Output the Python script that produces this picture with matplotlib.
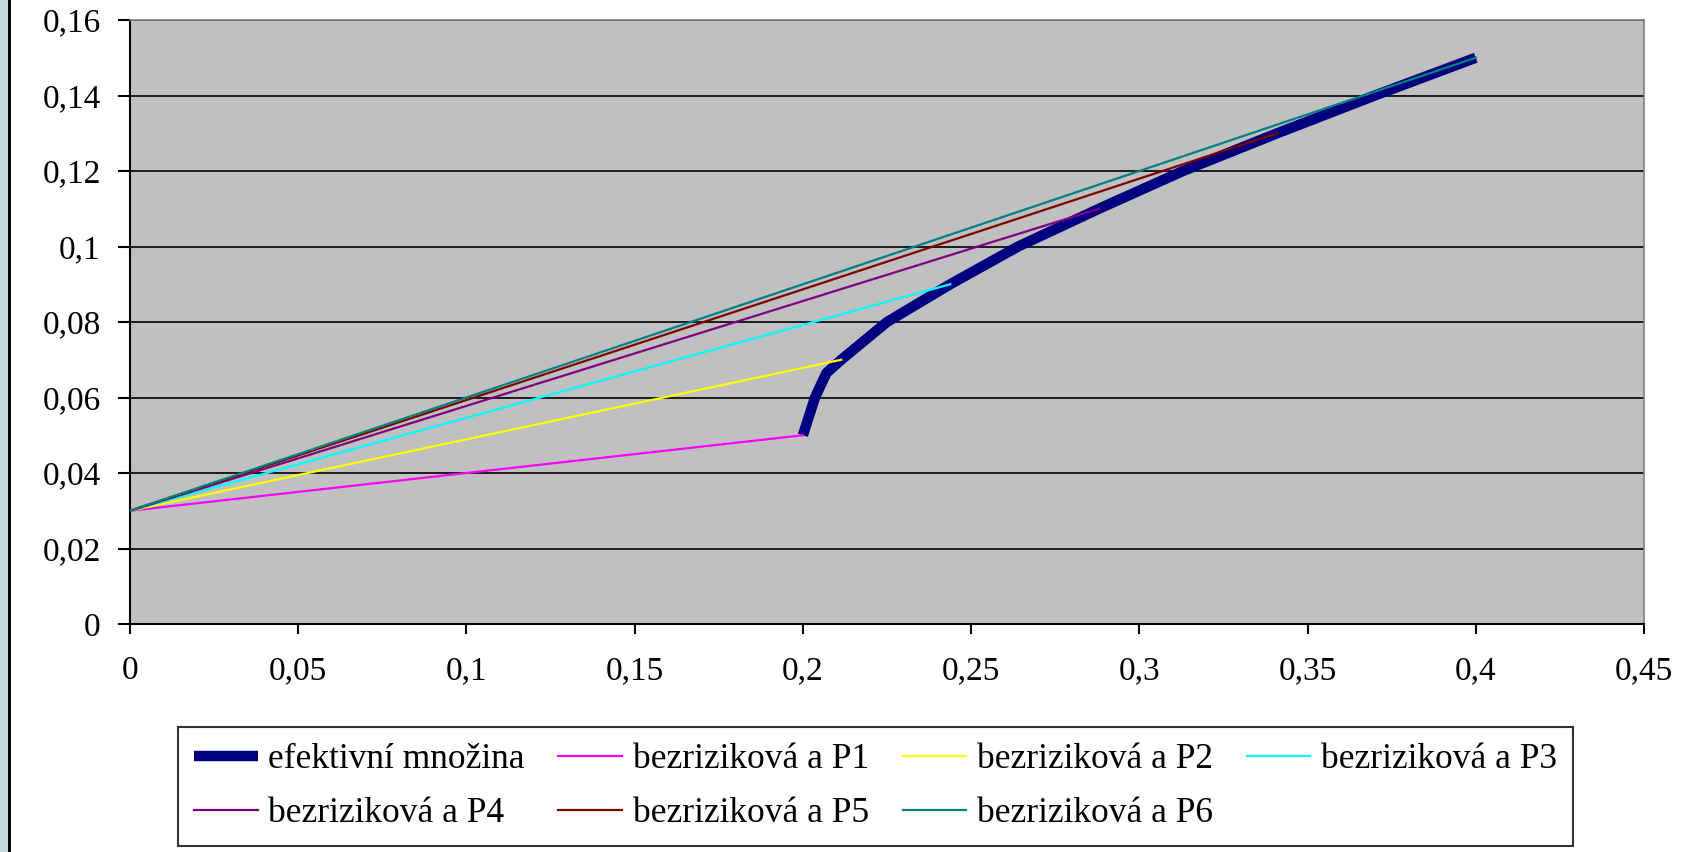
import matplotlib
matplotlib.use("Agg")
import matplotlib.pyplot as plt
from matplotlib.ticker import FuncFormatter, MultipleLocator
from matplotlib.patches import Rectangle

plt.rcParams['font.family'] = ['Liberation Serif', 'DejaVu Serif']

# efficient frontier (risk, return)
frontier_x = [0.2, 0.2036, 0.207, 0.2114, 0.225, 0.2438, 0.264, 0.288, 0.313, 0.341, 0.37, 0.4]
frontier_y = [0.05, 0.06, 0.0665, 0.07, 0.08, 0.09, 0.1, 0.11, 0.12, 0.13, 0.14, 0.15]

# risk-free asset and portfolios P1..P6
rf = (0.0, 0.03)
port_names = ['P1', 'P2', 'P3', 'P4', 'P5', 'P6']
port_x = [0.2, 0.2114, 0.2438, 0.288, 0.341, 0.4]
port_y = [0.05, 0.07, 0.09, 0.11, 0.13, 0.15]
port_colors = ['#FF00FF', '#FFFF00', '#00FFFF', '#800080', '#800000', '#008080']

W, H = 1696, 852
fig = plt.figure(figsize=(W / 100, H / 100), dpi=100)

# left border strip
fig.patches.append(Rectangle((0, 0), 8 / W, 1, transform=fig.transFigure,
                             facecolor='#C5D9D8', edgecolor='none', zorder=0))
fig.patches.append(Rectangle((8 / W, 0), 3 / W, 1, transform=fig.transFigure,
                             facecolor='black', edgecolor='none', zorder=0))

ax = fig.add_axes([130 / W, (H - 624) / H, 1514 / W, 604 / H])
ax.set_facecolor('#C0C0C0')

handles = []
h, = ax.plot(frontier_x, frontier_y, color='#000080', lw=7.5,
             solid_capstyle='butt', label='efektivní množina', zorder=3)
handles.append(h)
for name, px, py, c in zip(port_names, port_x, port_y, port_colors):
    h, = ax.plot([rf[0], px], [rf[1], py], color=c, lw=1.6,
                 label='bezriziková a ' + name, zorder=4)
    handles.append(h)

ax.set_xlim(0, 0.45)
ax.set_ylim(0, 0.16)
ax.xaxis.set_major_locator(MultipleLocator(0.05))
ax.yaxis.set_major_locator(MultipleLocator(0.02))
fmt = FuncFormatter(lambda v, p: ('%g' % round(v, 4)).replace('.', ','))
ax.xaxis.set_major_formatter(fmt)
ax.yaxis.set_major_formatter(fmt)
ax.yaxis.grid(True, color='black', lw=1.2)
ax.set_axisbelow(True)

for s in ['top', 'right']:
    ax.spines[s].set_color('#808080')
    ax.spines[s].set_linewidth(1.2)
for s in ['left', 'bottom']:
    ax.spines[s].set_color('black')
    ax.spines[s].set_linewidth(1.5)

ax.tick_params(axis='y', direction='out', length=9, width=1.5, pad=12, labelsize=24)
ax.tick_params(axis='x', direction='out', length=7, width=1.5, pad=16, labelsize=24)

order = [0, 4, 1, 5, 2, 6, 3]
leg = ax.legend([handles[i] for i in order], [handles[i].get_label() for i in order],
                ncol=4, loc='upper left', bbox_to_anchor=(178 / W, 1 - 727 / H),
                bbox_transform=fig.transFigure, borderaxespad=0, fontsize=25.5,
                frameon=True, fancybox=False, handlelength=1.8, handletextpad=0.3,
                columnspacing=0.95, labelspacing=0.6, borderpad=0.45)
leg.get_frame().set_edgecolor('black')
leg.get_frame().set_linewidth(1.5)

fig.savefig('out.png', dpi=100)
